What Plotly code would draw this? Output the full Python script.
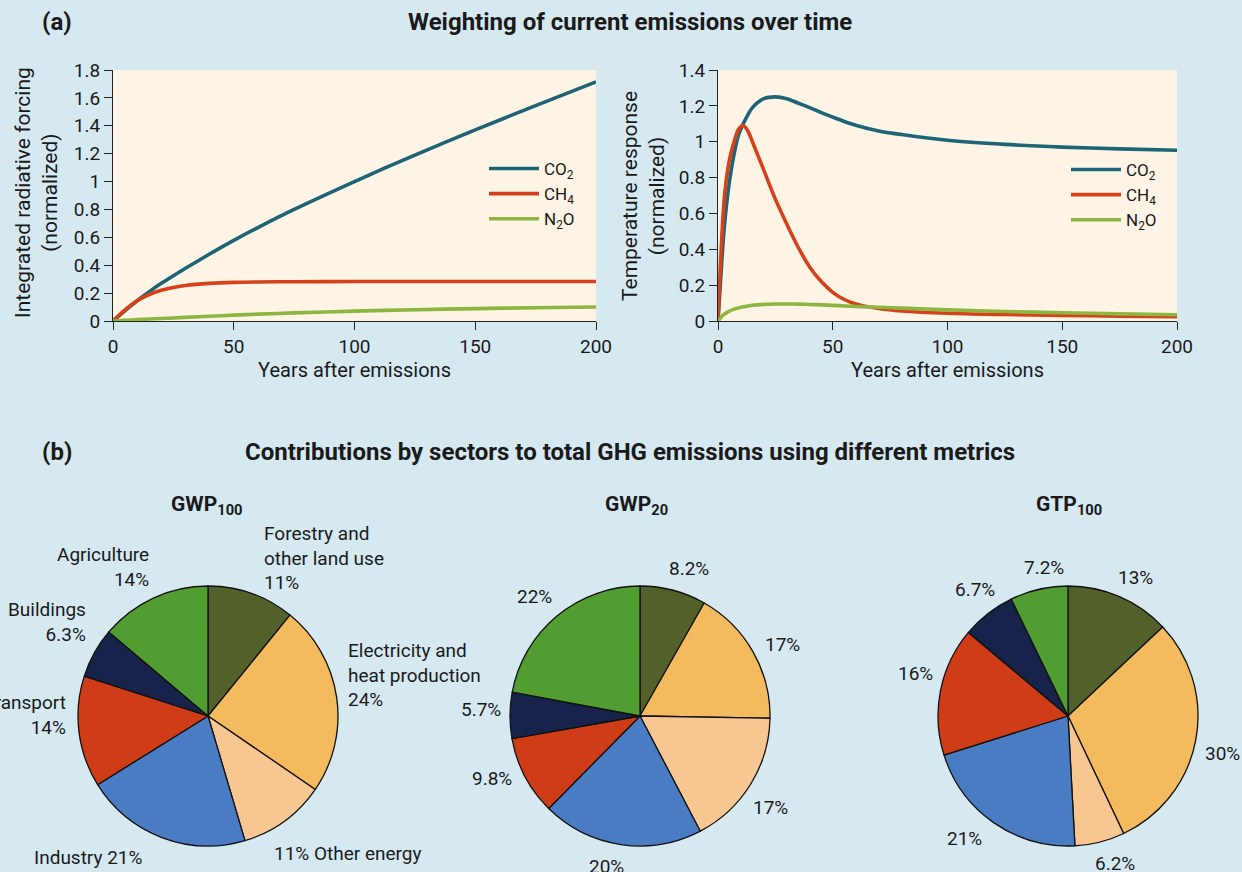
import plotly.graph_objects as go

# ---------- data: panel (a) ----------
years_rf = [0, 5, 10, 15, 20, 25, 30, 40, 50, 60, 75, 100, 125, 150, 175, 200]
rf_co2 = [0, 0.075, 0.145, 0.21, 0.27, 0.325, 0.378, 0.48, 0.578, 0.67, 0.80, 1.00, 1.19, 1.37, 1.545, 1.715]
rf_ch4 = [0, 0.08, 0.145, 0.19, 0.22, 0.24, 0.255, 0.27, 0.277, 0.28, 0.282, 0.283, 0.283, 0.283, 0.283, 0.283]
rf_n2o = [0, 0.005, 0.01, 0.014, 0.018, 0.022, 0.026, 0.034, 0.042, 0.049, 0.058, 0.071, 0.081, 0.089, 0.095, 0.10]

years_tr = [0, 1, 2, 3, 5, 7, 9, 11, 13, 15, 20, 25, 30, 35, 40, 45, 50, 55, 60, 70, 80, 100, 125, 150, 175, 200]
tr_co2 = [0, 0.2, 0.4, 0.56, 0.78, 0.93, 1.04, 1.1, 1.15, 1.19, 1.24, 1.25, 1.24, 1.215, 1.19, 1.162, 1.137, 1.113, 1.092, 1.06, 1.04, 1.008, 0.985, 0.97, 0.96, 0.952]
tr_ch4 = [0, 0.3, 0.55, 0.72, 0.9, 1.0, 1.07, 1.09, 1.06, 1.0, 0.84, 0.68, 0.54, 0.41, 0.30, 0.22, 0.16, 0.12, 0.095, 0.07, 0.056, 0.043, 0.036, 0.031, 0.027, 0.024]
tr_n2o = [0, 0.015, 0.03, 0.04, 0.055, 0.066, 0.073, 0.079, 0.084, 0.088, 0.093, 0.095, 0.095, 0.094, 0.092, 0.09, 0.087, 0.084, 0.081, 0.077, 0.072, 0.062, 0.053, 0.046, 0.04, 0.035]

gas_names = ["CO<sub>2</sub>", "CH<sub>4</sub>", "N<sub>2</sub>O"]
gas_colors = ["#1d6477", "#d4411b", "#8cb640"]

# ---------- data: panel (b) ----------
sectors = ["Forestry and other land use", "Electricity and heat production", "Other energy",
           "Industry", "Transport", "Buildings", "Agriculture"]
sector_colors = ["#52612a", "#f4bb5e", "#f8c690", "#4a7cc3", "#cf3c18", "#17234a", "#529d32"]
gwp100 = [11, 24, 11, 21, 14, 6.3, 14]
gwp20 = [8.2, 17, 17, 20, 9.8, 5.7, 22]
gtp100 = [13, 30, 6.2, 21, 16, 6.7, 7.2]

W, H = 1242, 872
FONT = "Roboto, Open Sans, sans-serif"
BG = "#d6e9f1"
PLOT_BG = "#fef4e5"
TXT = "#1a1a1a"


def px(x):
    return x / W


def py(y):
    return 1 - y / H


fig = go.Figure()

for vals, name, col in zip([rf_co2, rf_ch4, rf_n2o], gas_names, gas_colors):
    fig.add_trace(go.Scatter(x=years_rf, y=vals, name=name, mode="lines",
                             line=dict(color=col, width=3.6, shape="spline", smoothing=0.8),
                             xaxis="x", yaxis="y", legend="legend", hoverinfo="skip"))
for vals, name, col in zip([tr_co2, tr_ch4, tr_n2o], gas_names, gas_colors):
    fig.add_trace(go.Scatter(x=years_tr, y=vals, name=name, mode="lines",
                             line=dict(color=col, width=3.6, shape="spline", smoothing=0.8),
                             xaxis="x2", yaxis="y2", legend="legend2", hoverinfo="skip"))

pie_centers = [208, 640, 1068]
R = 130
cy = 716
for vals, cx in zip([gwp100, gwp20, gtp100], pie_centers):
    fig.add_trace(go.Pie(values=vals, labels=sectors, sort=False, direction="clockwise",
                         rotation=0, textinfo="none", hoverinfo="skip", showlegend=False,
                         marker=dict(colors=sector_colors, line=dict(color="#111111", width=1.3)),
                         domain=dict(x=[px(cx - R), px(cx + R)], y=[py(cy + R), py(cy - R)])))

axis_common = dict(showgrid=False, zeroline=False, showline=True, linecolor="#222", linewidth=1.2,
                   ticks="outside", ticklen=8, tickcolor="#222", tickwidth=1.2,
                   tickfont=dict(family=FONT, size=19, color=TXT), automargin=False)

fig.update_layout(
    width=W, height=H,
    paper_bgcolor=BG, plot_bgcolor=PLOT_BG,
    margin=dict(l=0, r=0, t=0, b=0),
    font=dict(family=FONT, color=TXT),
    xaxis=dict(domain=[px(113), px(596)], range=[0, 200], dtick=50, anchor="y",
               title=dict(text="Years after emissions", font=dict(family=FONT, size=20), standoff=6),
               **axis_common),
    yaxis=dict(domain=[py(321), py(70)], range=[0, 1.8], dtick=0.2, anchor="x",
               **axis_common),
    xaxis2=dict(domain=[px(718), px(1177)], range=[0, 200], dtick=50, anchor="y2",
                title=dict(text="Years after emissions", font=dict(family=FONT, size=20), standoff=6),
                **axis_common),
    yaxis2=dict(domain=[py(321), py(70)], range=[0, 1.4], dtick=0.2, anchor="x2",
                **axis_common),
    legend=dict(x=px(484), y=py(151), xanchor="left", yanchor="top", bgcolor="rgba(0,0,0,0)",
                font=dict(family=FONT, size=17, color=TXT), tracegroupgap=0, itemwidth=50),
    legend2=dict(x=px(1066), y=py(152), xanchor="left", yanchor="top", bgcolor="rgba(0,0,0,0)",
                 font=dict(family=FONT, size=17, color=TXT), tracegroupgap=0, itemwidth=50),
)

ann = []


def add(text, x, y, size=19, bold=False, xanchor="center", align="center", angle=0):
    ann.append(dict(text=f"<b>{text}</b>" if bold else text, x=px(x), y=py(y), xref="paper", yref="paper",
                    showarrow=False, xanchor=xanchor, yanchor="middle", align=align, textangle=angle,
                    font=dict(family=FONT, size=size, color=TXT)))


add("(a)", 40, 22, size=24, bold=True, xanchor="left")
add("Weighting of current emissions over time", 630, 22, size=24, bold=True)
add("(b)", 40, 452, size=24, bold=True, xanchor="left")
add("Contributions by sectors to total GHG emissions using different metrics", 630, 452, size=24, bold=True)

# y-axis titles
add("Integrated radiative forcing<br>(normalized)", 37, 193, size=21, angle=-90)
add("Temperature response<br>(normalized)", 643, 196, size=21, angle=-90)

add("GWP<sub>100</sub>", 207, 505, size=21, bold=True)
add("GWP<sub>20</sub>", 637, 505, size=21, bold=True)
add("GTP<sub>100</sub>", 1069, 505, size=21, bold=True)

# GWP100 labels
add("Agriculture<br>14%", 151, 567, xanchor="right", align="right")
add("Buildings<br>6.3%", 88, 622, xanchor="right", align="right")
add("Transport<br>14%", 68, 715, xanchor="right", align="right")
add("Industry 21%", 32, 857, xanchor="left", align="left")
add("11% Other energy", 272, 853, xanchor="left", align="left")
add("Electricity and<br>heat production<br>24%", 346, 675, xanchor="left", align="left")
add("Forestry and<br>other land use<br>11%", 262, 558, xanchor="left", align="left")

# GWP20 labels
add("8.2%", 689, 568)
add("17%", 782, 644)
add("17%", 770, 807)
add("20%", 606, 866)
add("9.8%", 492, 778)
add("5.7%", 481, 709)
add("22%", 534, 596)

# GTP100 labels
add("13%", 1135, 577)
add("30%", 1222, 753)
add("6.2%", 1115, 863)
add("21%", 964, 838)
add("16%", 915, 673)
add("6.7%", 975, 589)
add("7.2%", 1044, 567)

fig.update_layout(annotations=ann)
fig.write_html("out.html", config={"displayModeBar": False},
               post_script="document.body.style.margin='0px';document.body.style.overflow='hidden';")
